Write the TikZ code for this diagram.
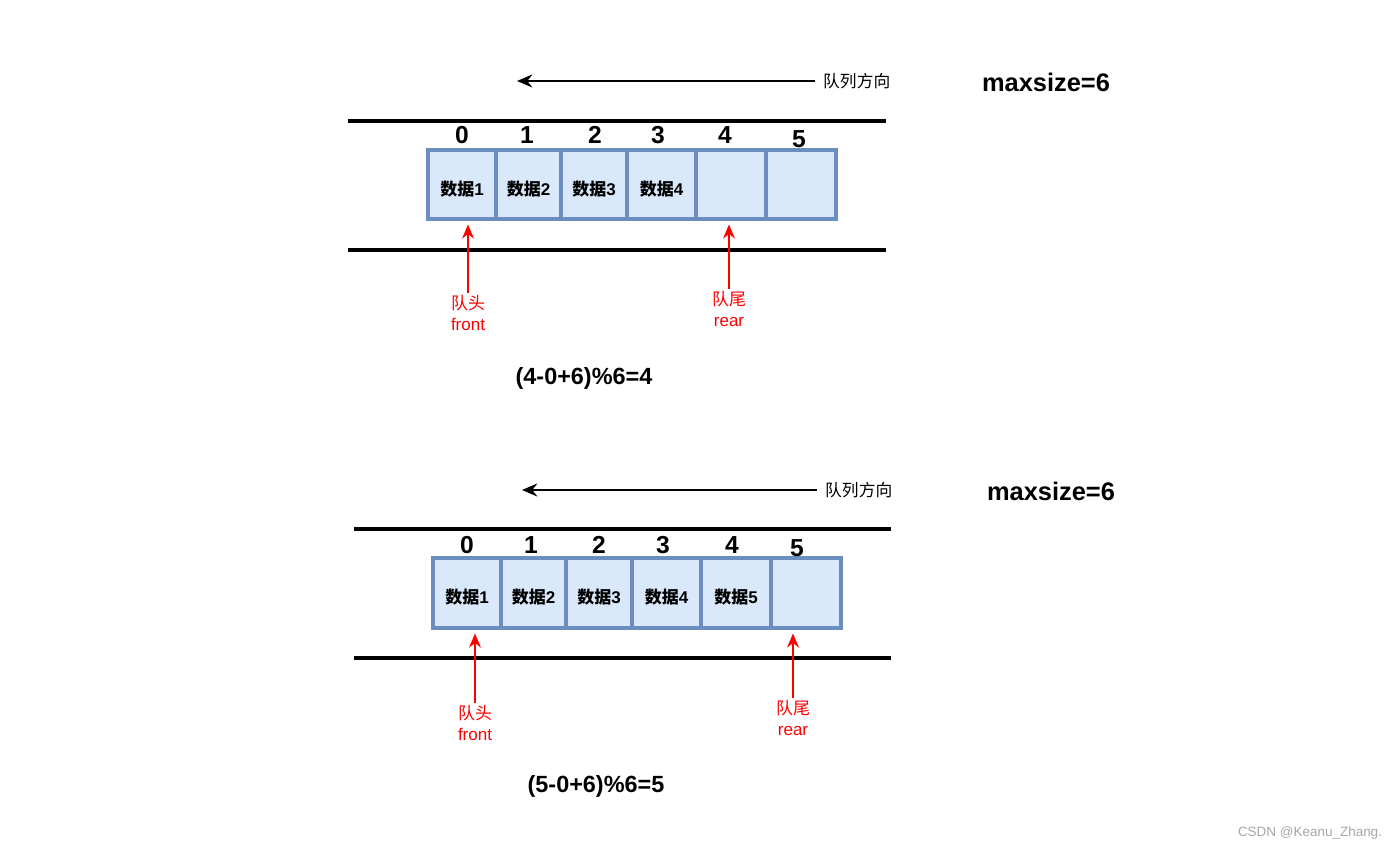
\documentclass[tikz,border=0pt]{standalone}
\usepackage{fontspec}
\setmainfont{Liberation Sans}
\newfontfamily\cjk{Noto Sans CJK SC}
\usetikzlibrary{arrows.meta, positioning}
\definecolor{cellfill}{HTML}{DAE8FC}
\definecolor{celldraw}{HTML}{6C8EBF}
\definecolor{markred}{RGB}{255,0,0}
\tikzstyle{cell}=[rectangle, draw=celldraw, fill=cellfill, line width=3.3pt,
  font=\fontsize{14.5}{16}\selectfont\bfseries, inner sep=0pt,
  text height=0.64cm, text depth=0pt]
\tikzstyle{idx}=[font=\fontsize{21}{24}\selectfont\bfseries, inner sep=0pt]
\tikzstyle{wall}=[line width=3.6pt]
\tikzstyle{dirlbl}=[font=\fontsize{14.3}{16}\selectfont, inner xsep=0.24cm, inner ysep=0pt]
\tikzstyle{darr}=[-{Stealth[length=13pt,width=11pt]}, line width=1.8pt]
\tikzstyle{parr}=[-{Stealth[length=12pt,width=10pt]}, line width=2.4pt, color=markred, shorten >=3pt]
\tikzstyle{ptr}=[font=\fontsize{14.5}{18}\selectfont, text=markred, align=center, inner sep=2pt]
\tikzstyle{bigtxt}=[font=\fontsize{20}{24}\selectfont\bfseries, inner sep=0pt]

\begin{document}
\begin{tikzpicture}[x=0.03cm, y=-0.03cm]
    \useasboundingbox (0,0) rectangle (1400,850);
    % first queue: four elements
    \node[dirlbl, anchor=west] (dir1) at (815,81) {\cjk 队列方向};
    \coordinate (dir1end) at (517,81);
    \draw[darr] (dir1.west) -- (dir1end);
    \node[bigtxt, font=\fontsize{21.7}{24}\selectfont\bfseries] (max1) at (1046,82) {maxsize=6};
    \draw[wall] (348,121) -- (886,121);
    \draw[wall] (348,250) -- (886,250);
    \node[cell, minimum width=2.04cm, minimum height=2.07cm] (a0) at (462,184.5) {{\cjk 数据}1};
    \node[cell, minimum width=1.95cm, minimum height=2.07cm] (a1) at (528.5,184.5) {{\cjk 数据}2};
    \node[cell, minimum width=1.98cm, minimum height=2.07cm] (a2) at (594,184.5) {{\cjk 数据}3};
    \node[cell, minimum width=2.07cm, minimum height=2.07cm] (a3) at (661.5,184.5) {{\cjk 数据}4};
    \node[cell, minimum width=2.10cm, minimum height=2.07cm] (a4) at (731,184.5) {};
    \node[cell, minimum width=2.10cm, minimum height=2.07cm] (a5) at (801,184.5) {};
    \node[idx] (ia0) at (462,135) {0};
    \node[idx] (ia1) at (527,135) {1};
    \node[idx] (ia2) at (595,135) {2};
    \node[idx] (ia3) at (658,135) {3};
    \node[idx] (ia4) at (725,135) {4};
    \node[idx] (ia5) at (799,139) {5};
    \node[ptr, anchor=north] (fa) at (468,293) {\cjk 队头\\front};
    \node[ptr, anchor=north] (ra) at (729,289) {\cjk 队尾\\rear};
    \draw[parr] (fa.north) -- (fa.north |- a0.south);
    \draw[parr] (ra.north) -- (ra.north |- a4.south);
    \node[bigtxt] (len1) at (584,378) {(4-0+6)\%6=4};

    % second queue: five elements
    \node[dirlbl, anchor=west] (dir2) at (817,490) {\cjk 队列方向};
    \coordinate (dir2end) at (522,490);
    \draw[darr] (dir2.west) -- (dir2end);
    \node[bigtxt, font=\fontsize{21.7}{24}\selectfont\bfseries] (max2) at (1051,491) {maxsize=6};
    \draw[wall] (354,529) -- (891,529);
    \draw[wall] (354,658) -- (891,658);
    \node[cell, minimum width=2.04cm, minimum height=2.10cm] (b0) at (467,593) {{\cjk 数据}1};
    \node[cell, minimum width=1.95cm, minimum height=2.10cm] (b1) at (533.5,593) {{\cjk 数据}2};
    \node[cell, minimum width=1.98cm, minimum height=2.10cm] (b2) at (599,593) {{\cjk 数据}3};
    \node[cell, minimum width=2.07cm, minimum height=2.10cm] (b3) at (666.5,593) {{\cjk 数据}4};
    \node[cell, minimum width=2.10cm, minimum height=2.10cm] (b4) at (736,593) {{\cjk 数据}5};
    \node[cell, minimum width=2.10cm, minimum height=2.10cm] (b5) at (806,593) {};
    \node[idx] (ib0) at (467,545) {0};
    \node[idx] (ib1) at (531,545) {1};
    \node[idx] (ib2) at (599,545) {2};
    \node[idx] (ib3) at (663,545) {3};
    \node[idx] (ib4) at (732,545) {4};
    \node[idx] (ib5) at (797,548) {5};
    \node[ptr, anchor=north] (fb) at (475,703) {\cjk 队头\\front};
    \node[ptr, anchor=north] (rb) at (793,698) {\cjk 队尾\\rear};
    \draw[parr] (fb.north) -- (fb.north |- b0.south);
    \draw[parr] (rb.north) -- (rb.north |- b5.south);
    \node[bigtxt] (len2) at (596,786) {(5-0+6)\%6=5};

    \node[text=gray!70, font=\fontsize{11.5}{13}\selectfont] (mark) at (1310,833) {CSDN @Keanu\_Zhang.};
  \end{tikzpicture}
\end{document}
